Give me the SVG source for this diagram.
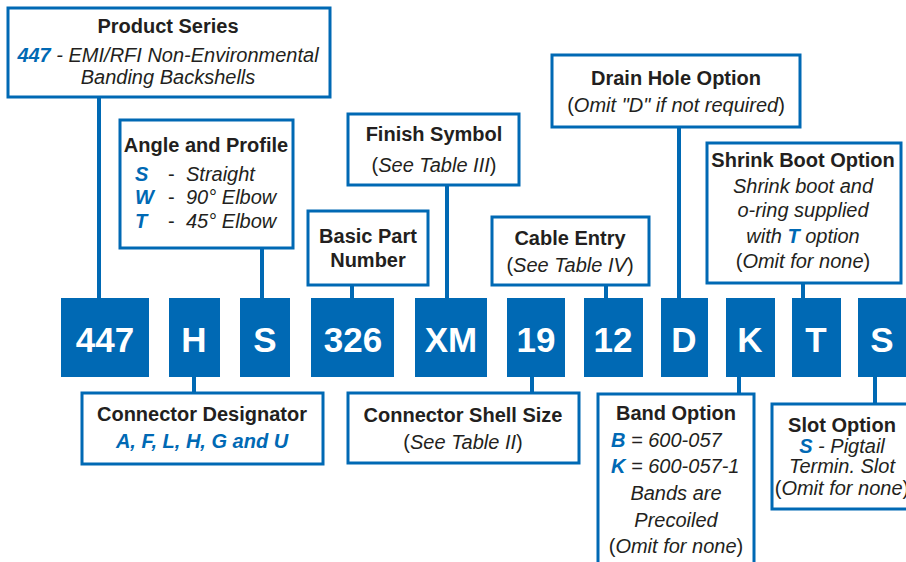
<svg xmlns="http://www.w3.org/2000/svg" width="906" height="562" viewBox="0 0 906 562">
<style>
.box{fill:#fff;stroke:#0069b4;stroke-width:3}
.code{fill:#0069b4}
.ct{font-family:"Liberation Sans",Arial,sans-serif;font-weight:bold;font-size:35px;fill:#fff;text-anchor:middle}
.t{font-family:"Liberation Sans",Arial,sans-serif;font-weight:bold;font-size:20px;fill:#231f20;text-anchor:middle}
.b{font-family:"Liberation Sans",Arial,sans-serif;font-size:20px;fill:#231f20;text-anchor:middle}
.i{font-style:italic}
.bl{font-weight:bold;font-style:italic;fill:#0069b4}
.conn line{stroke:#0069b4;stroke-width:4}
</style>
<rect width="906" height="562" fill="#fff"/>
<g class="conn" id="connectors">
<line x1="99" y1="97" x2="99" y2="298"/>
<line x1="262" y1="248" x2="262" y2="298"/>
<line x1="352" y1="285" x2="352" y2="298"/>
<line x1="447" y1="185" x2="447" y2="298"/>
<line x1="606" y1="285" x2="606" y2="298"/>
<line x1="679" y1="127" x2="679" y2="298"/>
<line x1="803" y1="283" x2="803" y2="298"/>
<line x1="194" y1="377" x2="194" y2="392"/>
<line x1="532" y1="377" x2="532" y2="392"/>
<line x1="739" y1="377" x2="739" y2="393"/>
<line x1="875" y1="377" x2="875" y2="403"/>
</g>
<g id="codes">
<rect class="code" x="61" y="298" width="88" height="79"/><text class="ct" x="105" y="352">447</text>
<rect class="code" x="169" y="298" width="51" height="79"/><text class="ct" x="194" y="352">H</text>
<rect class="code" x="240" y="298" width="50" height="79"/><text class="ct" x="265" y="352">S</text>
<rect class="code" x="311" y="298" width="83" height="79"/><text class="ct" x="353" y="352">326</text>
<rect class="code" x="415" y="298" width="72" height="79"/><text class="ct" x="451" y="352">XM</text>
<rect class="code" x="507" y="298" width="58" height="79"/><text class="ct" x="536" y="352">19</text>
<rect class="code" x="584" y="298" width="59" height="79"/><text class="ct" x="613" y="352">12</text>
<rect class="code" x="661" y="298" width="47" height="79"/><text class="ct" x="684" y="352">D</text>
<rect class="code" x="726" y="298" width="49" height="79"/><text class="ct" x="750" y="352">K</text>
<rect class="code" x="792" y="298" width="49" height="79"/><text class="ct" x="816" y="352">T</text>
<rect class="code" x="858" y="298" width="48" height="79"/><text class="ct" x="882" y="352">S</text>
</g>
<g id="product-series">
<rect class="box" x="8" y="8" width="322" height="89"/>
<text class="t" x="168" y="33">Product Series</text>
<text class="b" x="168" y="62"><tspan class="bl">447</tspan><tspan class="i"> - EMI/RFI Non-Environmental</tspan></text>
<text class="b i" x="168" y="84">Banding Backshells</text>
</g>
<g id="angle-profile">
<rect class="box" x="120" y="120" width="173" height="128"/>
<text class="t" x="206" y="152">Angle and Profile</text>
<text class="b bl" x="135" y="181" style="text-anchor:start">S</text>
<text class="b" x="168" y="181" style="text-anchor:start">-</text>
<text class="b i" x="186" y="181" style="text-anchor:start">Straight</text>
<text class="b bl" x="135" y="204" style="text-anchor:start">W</text>
<text class="b" x="168" y="204" style="text-anchor:start">-</text>
<text class="b i" x="186" y="204" style="text-anchor:start">90° Elbow</text>
<text class="b bl" x="135" y="228" style="text-anchor:start">T</text>
<text class="b" x="168" y="228" style="text-anchor:start">-</text>
<text class="b i" x="186" y="228" style="text-anchor:start">45° Elbow</text>
</g>
<g id="basic-part">
<rect class="box" x="308" y="211" width="120" height="74"/>
<text class="t" x="368" y="243">Basic Part</text>
<text class="t" x="368" y="267">Number</text>
</g>
<g id="finish-symbol">
<rect class="box" x="348" y="114" width="171" height="71"/>
<text class="t" x="434" y="141">Finish Symbol</text>
<text class="b" x="434" y="172">(<tspan class="i">See Table III</tspan>)</text>
</g>
<g id="cable-entry">
<rect class="box" x="492" y="217" width="157" height="68"/>
<text class="t" x="570" y="245">Cable Entry</text>
<text class="b" x="570" y="272">(<tspan class="i">See Table IV</tspan>)</text>
</g>
<g id="drain-hole">
<rect class="box" x="552" y="55" width="248" height="72"/>
<text class="t" x="676" y="85">Drain Hole Option</text>
<text class="b" x="676" y="112">(<tspan class="i">Omit "D" if not required</tspan>)</text>
</g>
<g id="shrink-boot">
<rect class="box" x="707" y="143" width="194" height="140"/>
<text class="t" x="803" y="167">Shrink Boot Option</text>
<text class="b i" x="803" y="193">Shrink boot and</text>
<text class="b i" x="803" y="217">o-ring supplied</text>
<text class="b i" x="803" y="243">with <tspan class="bl">T</tspan> option</text>
<text class="b" x="803" y="268">(<tspan class="i">Omit for none</tspan>)</text>
</g>
<g id="connector-designator">
<rect class="box" x="82" y="393" width="241" height="71"/>
<text class="t" x="202" y="421">Connector Designator</text>
<text class="b bl" x="202" y="448">A, F, L, H, G and U</text>
</g>
<g id="shell-size">
<rect class="box" x="348" y="393" width="231" height="70"/>
<text class="t" x="463" y="422">Connector Shell Size</text>
<text class="b" x="463" y="449">(<tspan class="i">See Table II</tspan>)</text>
</g>
<g id="band-option">
<rect class="box" x="598" y="394" width="156" height="172"/>
<text class="t" x="676" y="420">Band Option</text>
<text class="b" x="611" y="447" style="text-anchor:start"><tspan class="bl">B</tspan><tspan class="i"> = 600-057</tspan></text>
<text class="b" x="611" y="473" style="text-anchor:start"><tspan class="bl">K</tspan><tspan class="i"> = 600-057-1</tspan></text>
<text class="b i" x="676" y="500">Bands are</text>
<text class="b i" x="676" y="527">Precoiled</text>
<text class="b" x="676" y="553">(<tspan class="i">Omit for none</tspan>)</text>
</g>
<g id="slot-option">
<rect class="box" x="772" y="404" width="140" height="105"/>
<text class="t" x="842" y="432">Slot Option</text>
<text class="b" x="842" y="453"><tspan class="bl">S</tspan><tspan class="i"> - Pigtail</tspan></text>
<text class="b i" x="842" y="473">Termin. Slot</text>
<text class="b" x="842" y="495">(<tspan class="i">Omit for none</tspan>)</text>
</g>
</svg>
